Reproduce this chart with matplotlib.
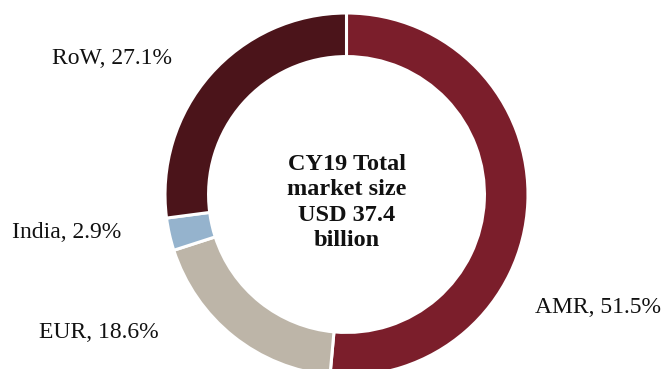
import matplotlib.pyplot as plt

# regional split of the CY19 market
regions = ["AMR", "EUR", "India", "RoW"]
shares = [51.5, 18.6, 2.9, 27.1]
colors = ["#7b1e2b", "#bdb5a8", "#95b3cd", "#4b141a"]
center_text = "CY19 Total\nmarket size\nUSD 37.4\nbillion"

# where each region label sits (data units, ring radius = 1)
label_pos = [(1.383, -0.62), (-1.364, -0.763), (-1.54, -0.207), (-1.292, 0.752)]

plt.rcParams["font.family"] = ["Liberation Serif", "DejaVu Serif"]

W, H = 663, 369
fig = plt.figure(figsize=(W / 100, H / 100), dpi=100)
ax = fig.add_axes([0, 0, 1, 1])

ax.pie(shares, colors=colors, startangle=90, counterclock=False,
       wedgeprops=dict(width=0.24, edgecolor="white", linewidth=2.2))

for name, val, (x, y) in zip(regions, shares, label_pos):
    ax.text(x, y, f"{name}, {val}%", ha="center", va="center",
            fontsize=17, color="#111111")

ax.text(0, -0.045, center_text, ha="center", va="center",
        fontsize=17.5, fontweight="bold", linespacing=1.28, color="#111111")

# pixel geometry: centre at (346.5, 194.5) from the top-left, radius 181.5 px
r_px = 181.5
cx, cy = 346.5, 194.5
ax.set_aspect("auto")
ax.set_xlim(-cx / r_px, (W - cx) / r_px)
ax.set_ylim(-(H - cy) / r_px, cy / r_px)
ax.axis("off")

fig.savefig("out.png", dpi=100)
